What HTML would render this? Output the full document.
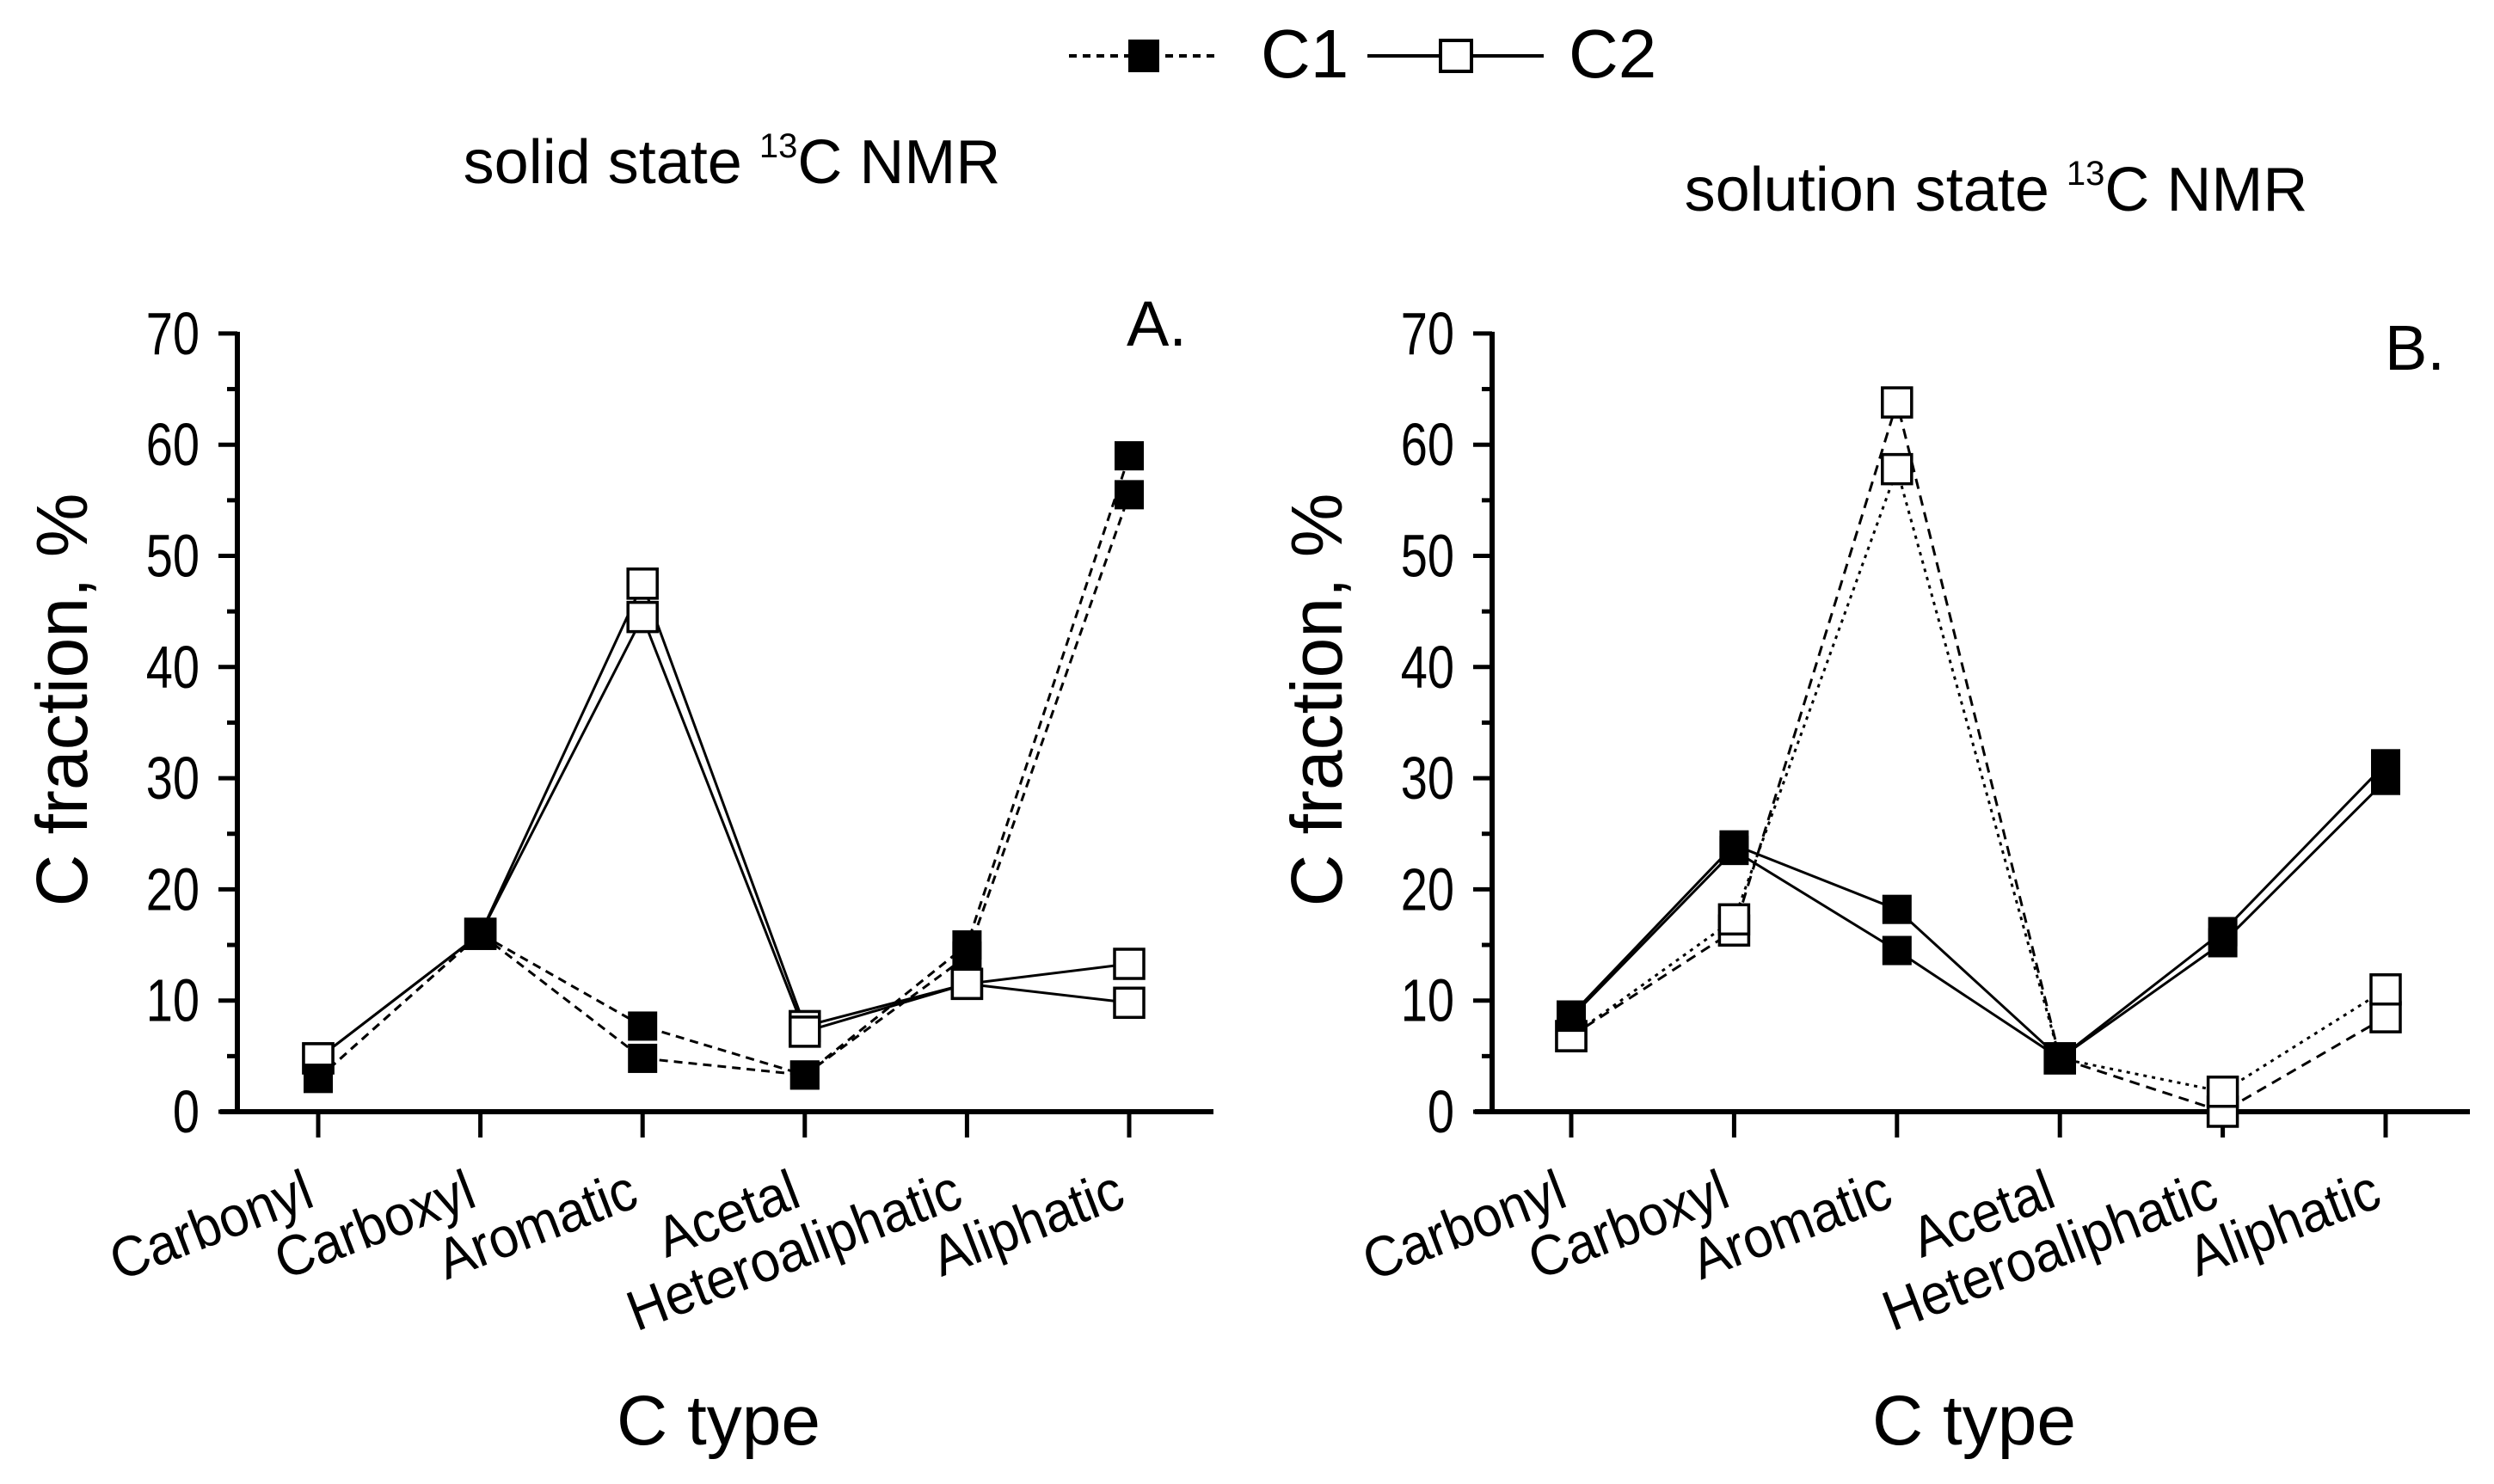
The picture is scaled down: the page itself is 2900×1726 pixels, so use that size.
<!DOCTYPE html>
<html><head><meta charset="utf-8">
<style>
html,body{margin:0;padding:0;background:#fff;}
svg{display:block;font-family:"Liberation Sans",Arial,sans-serif;}
</style></head>
<body>
<svg id="chart" width="2900" height="1726" viewBox="0 0 2900 1726" xmlns="http://www.w3.org/2000/svg">
<rect width="2900" height="1726" fill="#fff"/>
<g id="legend">
  <g>
    <line x1="1243" y1="65" x2="1415" y2="65" stroke="#000" stroke-width="4" stroke-dasharray="9,7"/>
    <rect x="1312" y="46" width="36" height="38" fill="#000"/>
    <text x="1466" y="90" font-size="80">C1</text>
  </g>
  <g>
    <line x1="1590" y1="65" x2="1795" y2="65" stroke="#000" stroke-width="4"/>
    <rect x="1675" y="47" width="36" height="36" fill="#fff" stroke="#000" stroke-width="4"/>
    <text x="1824" y="90" font-size="80">C2</text>
  </g>
</g>
<text x="851" y="213" font-size="72" text-anchor="middle">solid state <tspan font-size="40" dy="-30">13</tspan><tspan dy="30">C NMR</tspan></text>
<text x="2321" y="245" font-size="72" text-anchor="middle">solution state <tspan font-size="40" dy="-30">13</tspan><tspan dy="30">C NMR</tspan></text>
<g id="panelA"></g>
<g id="panelB"></g>
</svg>
<script>
const categories = ["Carbonyl","Carboxyl","Aromatic","Acetal","Heteroaliphatic","Aliphatic"];
const yTicks = [0,10,20,30,40,50,60,70];
// Panel A (solid state)
const a_c1_line1 = [3.0, 16.0, 7.7, 3.3, 15.0, 59.0];
const a_c1_line2 = [3.0, 16.0, 4.8, 3.3, 14.0, 55.5];
const a_c2_line1 = [4.8, 16.0, 47.5, 7.7, 11.5, 13.3];
const a_c2_line2 = [4.8, 16.0, 44.5, 7.2, 11.5, 9.8];
// Panel B (solution state)
const b_c1_line1 = [8.7, 24.0, 18.2, 4.8, 16.2, 31.3];
const b_c1_line2 = [8.5, 23.5, 14.5, 4.8, 15.2, 29.8];
const b_c2_line1 = [6.8, 16.3, 63.8, 4.8, 0.0, 8.5];
const b_c2_line2 = [6.8, 17.3, 57.8, 4.8, 1.8, 11.0];

const NS = "http://www.w3.org/2000/svg";
function mk(parent, tag, attrs){
  const e = document.createElementNS(NS, tag);
  for (const k in attrs) e.setAttribute(k, attrs[k]);
  parent.appendChild(e);
  return e;
}
function drawPanel(g, ax, axEnd, catX0, catStep, letter, letterX, letterY, series){
  const y0 = 1293, yScale = 12.93;
  const yS = v => y0 - v*yScale;
  const xS = i => catX0 + i*catStep;
  const yAxis = mk(g,'line',{x1:ax,y1:yS(70)-2,x2:ax,y2:y0,stroke:'#000','stroke-width':6});
  
  
  const xAxis = mk(g,'line',{x1:ax-20,y1:y0,x2:axEnd,y2:y0,stroke:'#000','stroke-width':6});
  
  
  for (let v=5; v<70; v+=10){
    const t = mk(g,'line',{x1:ax-12,y1:yS(v),x2:ax,y2:yS(v),stroke:'#000','stroke-width':5});
    
    
  }
  yTicks.forEach(v=>{
    const t = mk(g,'line',{x1:ax-22,y1:yS(v),x2:ax,y2:yS(v),stroke:'#000','stroke-width':5});
    
    
    const lx = ax-44;
    const l = mk(g,'text',{x:lx,y:yS(v)+24,'font-size':70,'text-anchor':'end',transform:`translate(${lx},0) scale(0.8,1) translate(${-lx},0)`});
    l.textContent = v;
    
    
  });
  categories.forEach((c,i)=>{
    const t = mk(g,'line',{x1:xS(i),y1:y0,x2:xS(i),y2:y0+30,stroke:'#000','stroke-width':5});
    
    
    const tx = xS(i)-2, ty = 1402;
    const l = mk(g,'text',{x:tx,y:ty,'font-size':66,'text-anchor':'end',transform:`rotate(-21 ${tx} ${ty}) translate(${tx},0) scale(0.93,1) translate(${-tx},0)`});
    l.textContent = c;
    
    
  });
  const yt = mk(g,'text',{x:0,y:0,'font-size':84,'text-anchor':'middle',transform:`translate(${ax-175},814) rotate(-90)`});
  yt.textContent = 'C fraction, %';
  
  
  const xt = mk(g,'text',{x:(ax+axEnd)/2-8,y:1680,'font-size':82,'text-anchor':'middle'});
  xt.textContent = 'C type';
  
  
  const lt = mk(g,'text',{x:letterX,y:letterY,'font-size':74,'text-anchor':'middle'});
  lt.textContent = letter;
  
  
  series.forEach(s=>{
    const pts = s.vals.map((v,i)=>xS(i)+','+yS(v)).join(' ');
    const p = mk(g,'polyline',{points:pts,fill:'none',stroke:'#000','stroke-width':3,'stroke-dasharray':s.dash});
    
    
  });
  series.forEach(s=>{
    s.vals.forEach((v,i)=>{
      const m = mk(g,'rect',{x:xS(i)-17,y:yS(v)-17,width:34,height:34,fill:s.filled?'#000':'#fff',stroke:'#000','stroke-width':s.filled?0:3.5});
      
      
    });
  });
}
drawPanel(document.getElementById('panelA'), 276, 1411, 370, 188.6, 'A.', 1345, 402, [
  {name:'a-c2-1', vals:a_c2_line1, filled:false, dash:'none'},
  {name:'a-c2-2', vals:a_c2_line2, filled:false, dash:'none'},
  {name:'a-c1-1', vals:a_c1_line1, filled:true, dash:'10,7'},
  {name:'a-c1-2', vals:a_c1_line2, filled:true, dash:'10,7'}
]);
drawPanel(document.getElementById('panelB'), 1735, 2872, 1827, 189.4, 'B.', 2808, 430, [
  {name:'b-c2-1', vals:b_c2_line1, filled:false, dash:'12,8'},
  {name:'b-c2-2', vals:b_c2_line2, filled:false, dash:'4,6'},
  {name:'b-c1-1', vals:b_c1_line1, filled:true, dash:'none'},
  {name:'b-c1-2', vals:b_c1_line2, filled:true, dash:'none'}
]);
</script>
</body></html>
